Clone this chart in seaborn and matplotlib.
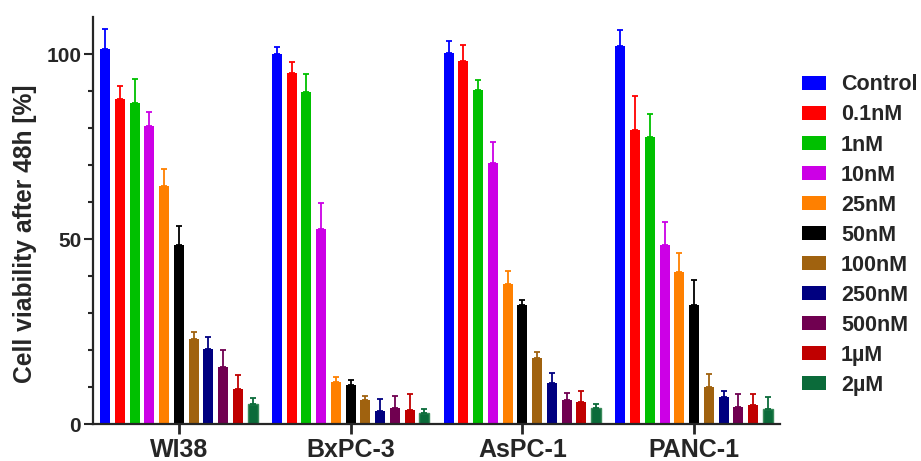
import matplotlib
matplotlib.use("Agg")
import matplotlib.pyplot as plt
import seaborn as sns
import pandas as pd
import numpy as np

# cell lines and treatment concentrations
cells = ['WI38', 'BxPC-3', 'AsPC-1', 'PANC-1']
concs = ['Control', '0.1nM', '1nM', '10nM', '25nM', '50nM',
         '100nM', '250nM', '500nM', '1µM', '2µM']
colors = ['#0000FF', '#FF0000', '#00C000', '#CC00E6', '#FF8000', '#000000',
          '#A0620F', '#000080', '#700050', '#C00000', '#0B6B3A']

# mean viability per cell line (one list per cell line, in concs order)
wi38 = [101.4, 87.8, 86.7, 80.6, 64.3, 48.4, 23.0, 20.2, 15.3, 9.4, 5.4]
bxpc3 = [100.0, 95.0, 89.8, 52.8, 11.4, 10.5, 6.5, 3.5, 4.2, 3.8, 2.9]
aspc1 = [100.4, 98.0, 90.2, 70.5, 37.8, 32.1, 17.8, 11.2, 6.4, 6.0, 4.2]
panc1 = [102.1, 79.4, 77.5, 48.3, 41.1, 32.1, 10.0, 7.3, 4.5, 5.1, 4.1]

# standard deviations (upper error bars)
wi38_sd = [5.4, 3.6, 6.5, 3.6, 4.5, 5.0, 2.0, 3.2, 4.8, 3.9, 1.5]
bxpc3_sd = [2.0, 2.9, 4.8, 6.8, 1.4, 1.4, 1.2, 3.2, 3.4, 4.2, 1.1]
aspc1_sd = [3.0, 4.5, 2.8, 5.8, 3.6, 1.5, 1.6, 2.5, 2.1, 3.0, 1.2]
panc1_sd = [4.4, 9.3, 6.4, 6.2, 5.1, 6.7, 3.4, 1.5, 3.7, 3.1, 3.2]

means = [wi38, bxpc3, aspc1, panc1]
sds = [wi38_sd, bxpc3_sd, aspc1_sd, panc1_sd]

rows = []
for c, m, s in zip(cells, means, sds):
    for k, v, e in zip(concs, m, s):
        rows.append({'cell': c, 'conc': k, 'value': v, 'sd': e})
df = pd.DataFrame(rows)

sns.set_style('ticks')
plt.rcParams['font.family'] = ['Liberation Sans', 'DejaVu Sans']
plt.rcParams['font.weight'] = 'bold'

fig = plt.figure(figsize=(9.21, 4.61), dpi=100)
ax = fig.add_axes([93/921, 37/461, (780-93)/921, (424-17)/461])

sns.barplot(data=df, x='cell', y='value', hue='conc', order=cells,
            hue_order=concs, palette=colors, width=0.946, gap=0.32,
            errorbar=None, saturation=1, linewidth=0, ax=ax)

bar_groups = list(ax.containers)

# one-sided error bars on top of each bar
for k, cont in enumerate(bar_groups):
    sub = df[df['conc'] == concs[k]].set_index('cell').loc[cells]
    xs = [p.get_x() + p.get_width() / 2 for p in cont.patches]
    hs = [p.get_height() for p in cont.patches]
    ax.errorbar(xs, hs, yerr=[np.zeros(len(xs)), sub['sd'].values],
                fmt='none', ecolor=colors[k], elinewidth=1.3,
                capsize=2.2, capthick=1.3)

# 2µM bars get a lighter edge
for p in bar_groups[-1].patches:
    p.set_edgecolor('#3A8A5A')
    p.set_linewidth(1.0)

ax.set_xlim(-0.5, 3.5)
ax.set_ylim(0, 110)
ax.set_yticks([0, 50, 100])
ax.set_yticks(np.arange(10, 100, 10), minor=True)
ax.tick_params(axis='y', which='major', length=6.5, width=1.5, labelsize=15, pad=2)
ax.tick_params(axis='y', which='minor', length=3.5, width=1.5)
ax.tick_params(axis='x', length=7, width=2, labelsize=18, pad=3)
for lab in ax.get_xticklabels() + ax.get_yticklabels():
    lab.set_fontweight('bold')

ax.set_xlabel('')
ax.set_ylabel('Cell viability after 48h [%]', fontsize=17.7, fontweight='bold')
ax.yaxis.set_label_coords(-0.081, 0.468)

for side in ['top', 'right']:
    ax.spines[side].set_visible(False)
for side in ['left', 'bottom']:
    ax.spines[side].set_linewidth(1.6)

ax.legend(loc='upper left', bbox_to_anchor=(1.02, 0.88), frameon=False,
          prop={'size': 15.5, 'weight': 'bold'}, handlelength=1.1,
          handleheight=0.6, handletextpad=0.7, labelspacing=0.42,
          borderaxespad=0)

fig.savefig('out.png', dpi=100)
